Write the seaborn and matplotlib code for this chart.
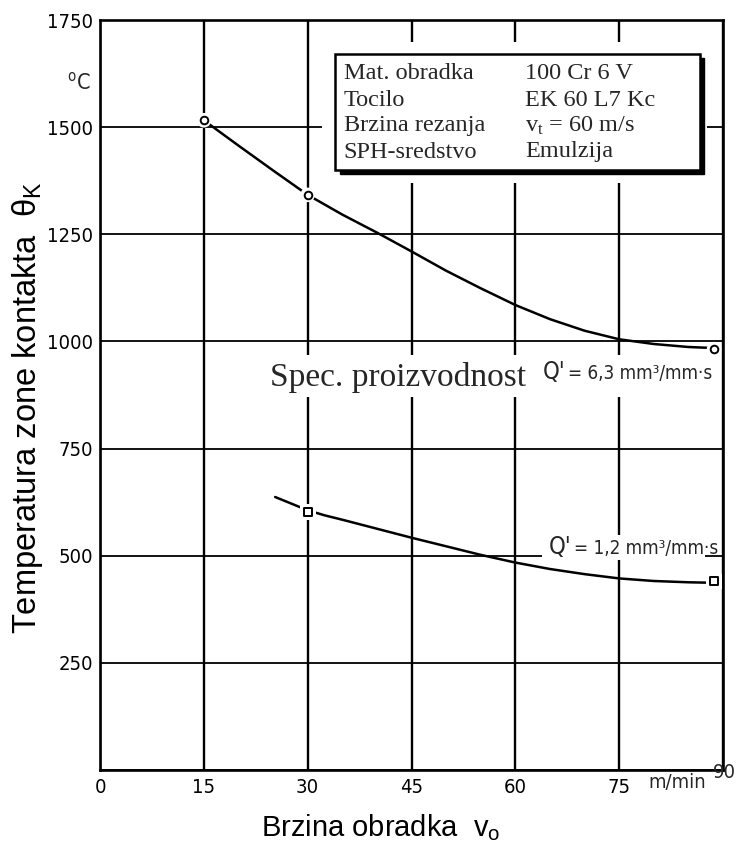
import matplotlib
matplotlib.use("Agg")
import matplotlib.pyplot as plt
from matplotlib import font_manager
from matplotlib.font_manager import FontProperties
from matplotlib.patches import Rectangle
from matplotlib.transforms import ScaledTranslation
import seaborn as sns
import pandas as pd

# ---------------- data ----------------
speed_q63 = [15, 20, 25, 30, 35, 40, 45, 50, 55, 60, 65, 70, 75, 80, 85, 88]
temp_q63 = [1516, 1457, 1399, 1342, 1296, 1254, 1210, 1165, 1124, 1085, 1052, 1025, 1005, 994, 987, 985]
meas_speed_q63 = [15, 30, 88.7]
meas_temp_q63 = [1516, 1342, 982]

speed_q12 = [25.3, 30, 32.5, 35, 40, 45, 50, 55, 60, 65, 70, 75, 80, 85, 88]
temp_q12 = [637, 606, 594, 584, 563, 542, 522, 502, 484, 469, 457, 447, 441, 438, 437]
meas_speed_q12 = [30, 88.7]
meas_temp_q12 = [602, 440]

x_ticks = [0, 15, 30, 45, 60, 75, 90]
x_ticklabels = ["0", "15", "30", "45", "60", "75", ""]
y_ticks = [0, 250, 500, 750, 1000, 1250, 1500, 1750]
y_ticklabels = ["", "250", "500", "750", "1000", "1250", "1500", "1750"]

box_left = ["Mat. obradka", "Tocilo", "Brzina rezanja", "SPH-sredstvo"]
box_right = ["100 Cr 6 V", "EK 60 L7 Kc", "v$_t$ = 60 m/s", "Emulzija"]

# ---------------- style ----------------
sns.set_style("white")
plt.rcParams["font.family"] = ["Liberation Sans", "DejaVu Sans"]
plt.rcParams["mathtext.fontset"] = "custom"
plt.rcParams["mathtext.rm"] = "Liberation Sans"
plt.rcParams["mathtext.default"] = "regular"


def find_narrow():
    fl = font_manager.fontManager.ttflist
    cond = ("condensed", "semi-condensed", "extra-condensed", "ultra-condensed")

    def ok(f):
        return f.style == "normal" and f.weight in (400, "normal", "regular", "book")

    prefs = [
        lambda f: f.name == "Liberation Sans Narrow",
        lambda f: f.name == "DejaVu Sans" and str(f.stretch) in cond,
        lambda f: "Condensed" in f.name and "Roboto" in f.name,
        lambda f: f.name in ("Noto Sans", "Open Sans", "Roboto") and str(f.stretch) in cond,
        lambda f: ("Condensed" in f.name or "Narrow" in f.name) and "Mono" not in f.name
                  and "Serif" not in f.name,
    ]
    for p in prefs:
        c = [f for f in fl if p(f) and ok(f)]
        if c:
            return FontProperties(fname=c[0].fname), True
    return FontProperties(family="Liberation Sans"), False


NARROW, is_narrow = find_narrow()
TS = 14.5 if is_narrow else 12.5


def nfp(size):
    fp = NARROW.copy()
    fp.set_size(size)
    return fp


W, H = 737, 842
fig = plt.figure(figsize=(W / 100, H / 100), dpi=100)
L, R, T, B = 100, 723, 20, 770
ax = fig.add_axes([L / W, 1 - B / H, (R - L) / W, (B - T) / H])

# ---------------- curves ----------------
df63 = pd.DataFrame({"v": speed_q63, "t": temp_q63})
df12 = pd.DataFrame({"v": speed_q12, "t": temp_q12})
sns.lineplot(data=df63, x="v", y="t", sort=False, estimator=None, color="black",
             linewidth=1.8, ax=ax, zorder=2)
sns.lineplot(data=df12, x="v", y="t", sort=False, estimator=None, color="black",
             linewidth=1.8, ax=ax, zorder=2)

m63 = pd.DataFrame({"v": meas_speed_q63, "t": meas_temp_q63})
m12 = pd.DataFrame({"v": meas_speed_q12, "t": meas_temp_q12})
# white halos (gaps in lines and grid around the points)
sns.scatterplot(data=m63, x="v", y="t", s=110, color="white", edgecolor="none",
                marker="o", ax=ax, zorder=2.2)
sns.scatterplot(data=m12, x="v", y="t", s=130, color="white", edgecolor="none",
                marker="s", ax=ax, zorder=2.2)
sns.scatterplot(data=m63, x="v", y="t", s=30, facecolor="white", edgecolor="black",
                linewidth=1.4, marker="o", ax=ax, zorder=3)
sns.scatterplot(data=m12, x="v", y="t", s=28, facecolor="white", edgecolor="black",
                linewidth=1.4, marker="s", ax=ax, zorder=3)

ax.set_xlim(0, 90)
ax.set_ylim(0, 1750)
ax.set_xticks(x_ticks)
ax.set_xticklabels(x_ticklabels)
ax.set_yticks(y_ticks)
ax.set_yticklabels(y_ticklabels)
for lab in ax.get_xticklabels() + ax.get_yticklabels():
    lab.set_fontproperties(nfp(TS))
for lab in ax.get_yticklabels():
    lab.set_transform(lab.get_transform() + ScaledTranslation(0, -7 / 100, fig.dpi_scale_trans))
ax.tick_params(axis="both", length=0, colors="black")
ax.tick_params(axis="x", pad=6)
ax.tick_params(axis="y", pad=5)

ax.xaxis.grid(True, color="black", linewidth=1.7, zorder=0.5)
ax.yaxis.grid(True, color="black", linewidth=1.3, zorder=0.5)
ax.set_axisbelow(True)
for s in ax.spines.values():
    s.set_visible(True)
    s.set_color("black")
    s.set_linewidth(1.9)

# extra axis texts
ax.text(90.2, -5, "90", fontproperties=nfp(TS), ha="center", va="center", clip_on=False)
ax.text(83.4, -28, "m/min", fontproperties=nfp(TS), ha="center", va="center", clip_on=False)
ax.text(-1.4, 1605, "$^o$C", fontproperties=nfp(TS + 1), ha="right", va="center", clip_on=False)

# axis labels (set last, then position)
ax.set_xlabel("Brzina obradka  v$_o$", fontsize=21, color="black")
ax.set_ylabel("Temperatura zone kontakta  θ$_K$", fontsize=23.5, color="black")
ax.xaxis.set_label_coords(0.45, -0.077)
ax.xaxis.label.set_verticalalignment("center")
ax.yaxis.set_label_coords(-0.117, 0.483)
ax.yaxis.label.set_verticalalignment("center")

# ---------------- curve labels ----------------
serif = ["Liberation Serif", "DejaVu Serif"]
ax.add_patch(Rectangle((23.8, 870), 64.6, 98, facecolor="white", edgecolor="none", zorder=1.5))
ax.text(24.6, 917, "Spec. proizvodnost", fontfamily=serif, fontsize=24,
        ha="left", va="center", zorder=5)
q1 = ax.text(64.0, 929, "Q'", fontproperties=nfp(17), ha="left", va="center", zorder=5)
ax.annotate("= 6,3 mm³/mm·s", xy=(1, 0.45), xycoords=q1, xytext=(2, 0),
            textcoords="offset points", fontproperties=nfp(13.5), ha="left", va="center",
            zorder=5)

ax.add_patch(Rectangle((63.8, 490), 23.6, 58, facecolor="white", edgecolor="none", zorder=1.5))
q2 = ax.text(64.8, 520, "Q'", fontproperties=nfp(17), ha="left", va="center", zorder=5)
ax.annotate("= 1,2 mm³/mm·s", xy=(1, 0.45), xycoords=q2, xytext=(2, 0),
            textcoords="offset points", fontproperties=nfp(13.5), ha="left", va="center",
            zorder=5)

# ---------------- info box ----------------
ax.add_patch(Rectangle((32.1, 1370), 55.6, 329, facecolor="white", edgecolor="none", zorder=1.5))
ax.add_patch(Rectangle((34.6, 1391), 52.7, 270, facecolor="black", edgecolor="black", zorder=3.8))
ax.add_patch(Rectangle((34.0, 1400), 52.7, 270, facecolor="white", edgecolor="black",
                       linewidth=1.8, zorder=4))
rows_y = [1626, 1561, 1503, 1442]
for txt, yy in zip(box_left, rows_y):
    ax.text(35.2, yy, txt, fontfamily=serif, fontsize=17.5, ha="left", va="center", zorder=5)
for txt, yy in zip(box_right, rows_y):
    ax.text(61.4, yy, txt, fontfamily=serif, fontsize=17.5, ha="left", va="center", zorder=5)

fig.savefig("out.png", dpi=100, facecolor="white")
